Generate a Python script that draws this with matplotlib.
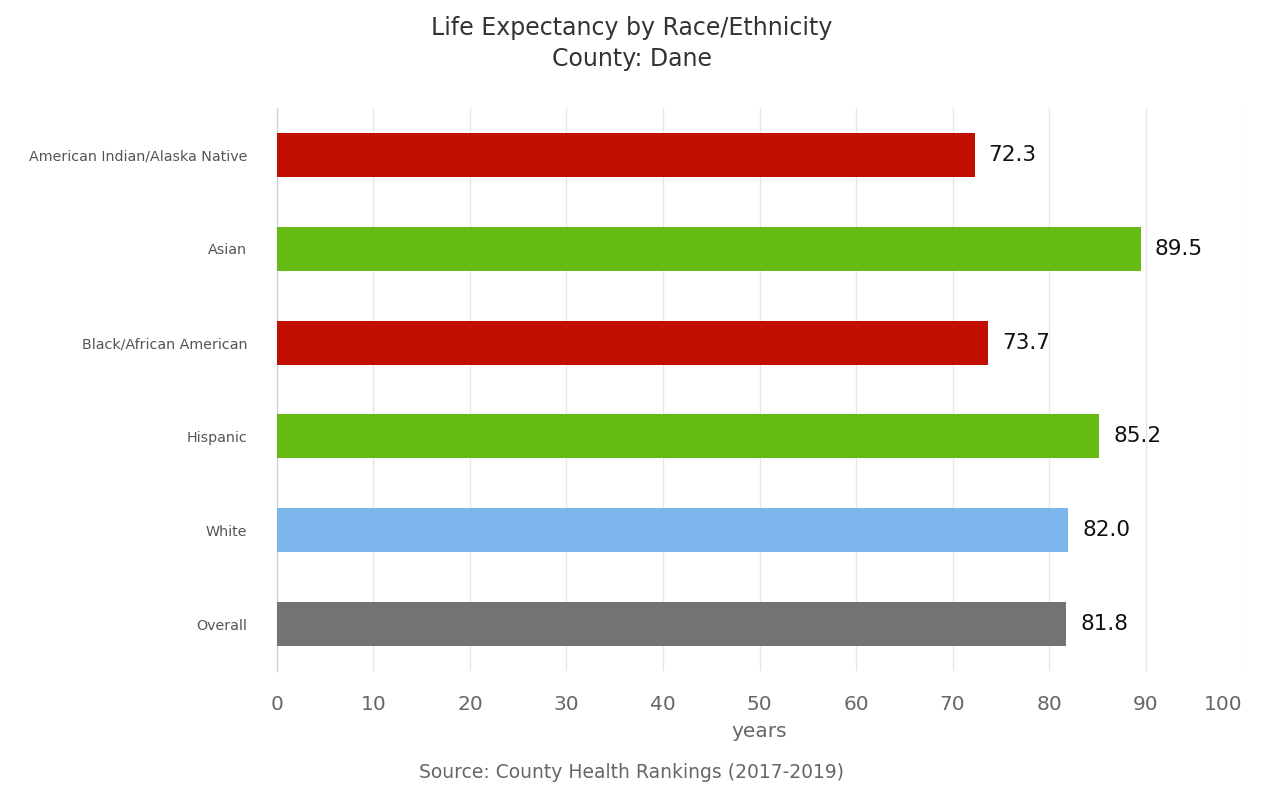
import matplotlib
matplotlib.use("Agg")
import matplotlib.pyplot as plt

categories = ["American Indian/Alaska Native", "Asian", "Black/African American",
              "Hispanic", "White", "Overall"]
values = [72.3, 89.5, 73.7, 85.2, 82.0, 81.8]
colors = ["#c00f00", "#66ba14", "#c00f00", "#66ba14", "#7cb5ec", "#737373"]
xticks = [0, 10, 20, 30, 40, 50, 60, 70, 80, 90, 100]

plt.rcParams['font.family'] = ['DejaVu Sans']

fig = plt.figure(figsize=(12.63, 7.93), dpi=100)
ax = fig.add_axes([0.2193, 0.1538, 0.9834 - 0.2193, 0.8638 - 0.1538])

ypos = list(range(len(categories)))
ax.barh(ypos, values, height=0.47, color=colors, zorder=3)
for y, v in zip(ypos, values):
    ax.annotate(f"{v:.1f}", xy=(v, y), xytext=(10, 0), textcoords="offset points",
                va="center", ha="left", fontsize=15.5, color="#111111", zorder=4)

ax.set_xlim(0, 100)
ax.set_ylim(len(categories) - 0.5, -0.5)
ax.set_yticks(ypos)
ax.set_yticklabels(categories, fontsize=10.3, color="#555555")
ax.set_xticks(xticks)
ax.set_xticklabels([str(t) for t in xticks], fontsize=14.5, color="#666666")
lbls = ax.get_xticklabels()
lbls[-1].set_horizontalalignment("right")
ax.tick_params(axis="y", length=0, pad=21.5)
ax.tick_params(axis="x", length=0, pad=17)

ax.grid(axis="x", color="#e6e6e6", linewidth=1, zorder=0)
ax.grid(axis="y", visible=False)
for s in ["top", "right", "bottom"]:
    ax.spines[s].set_visible(False)
ax.spines["left"].set_color("#ccd6eb")
ax.spines["left"].set_linewidth(1)

ax.set_xlabel("years", fontsize=14.5, color="#666666", labelpad=6)

fig.text(0.5, 1 - 28 / 793, "Life Expectancy by Race/Ethnicity", ha="center", va="center",
         fontsize=17, color="#333333")
fig.text(0.5, 1 - 59 / 793, "County: Dane", ha="center", va="center",
         fontsize=17, color="#333333")
fig.text(0.5, 1 - 773 / 793, "Source: County Health Rankings (2017-2019)", ha="center",
         va="center", fontsize=13.5, color="#666666")

fig.savefig("out.png", dpi=100)
